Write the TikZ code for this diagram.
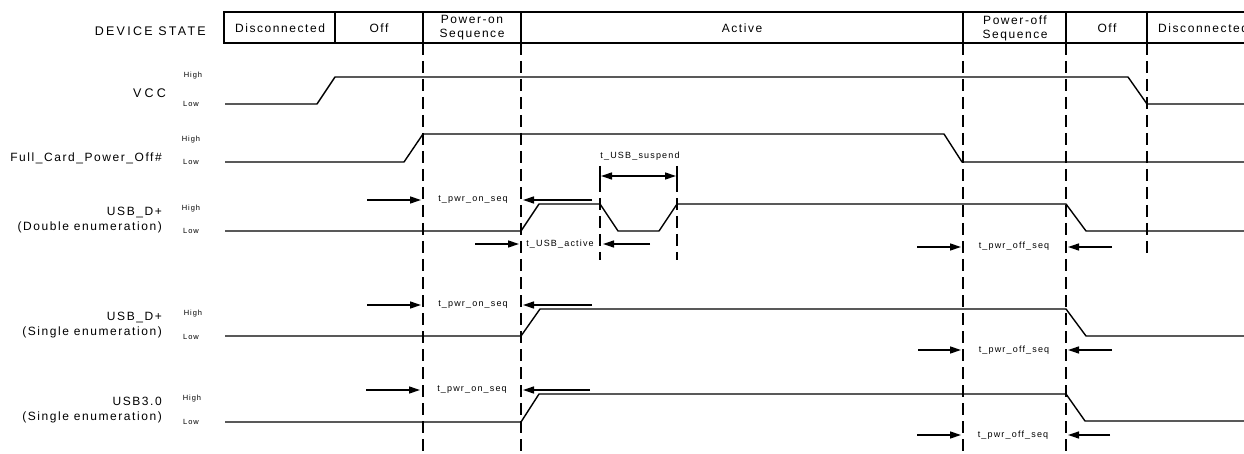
\documentclass[tikz,border=0pt]{standalone}
\usepackage{fontspec}
\setmainfont{Liberation Sans}[LetterSpace=13]
\usepackage{tikz}
\usetikzlibrary{arrows.meta}
\tikzset{
  barline/.style ={line width=1.6pt},
  statetxt/.style={font=\fontsize{12}{14}\selectfont, align=center, inner sep=0pt},
  signame/.style ={anchor=east, align=right, inner sep=0pt, font=\fontsize{12}{15.5}\selectfont},
  level/.style   ={font=\fontsize{7.5}{8}\selectfont, inner sep=0pt},
  tlbl/.style    ={font=\fontsize{9}{10}\selectfont, inner sep=0pt},
  wave/.style    ={line width=1.4pt, line join=round},
  guide/.style   ={line width=2pt, dash pattern=on 12pt off 6pt},
  tarrow/.style  ={line width=1.3pt, -{Triangle[length=11pt,width=7pt]}},
  tdim/.style    ={line width=1.3pt, {Triangle[length=11pt,width=7pt]}-{Triangle[length=11pt,width=7pt]}}
}
\begin{document}
\begin{tikzpicture}[x=1pt, y=-1pt]
\useasboundingbox (0,0) rectangle (1244,454);
% device state
\node[signame, anchor=east, font=\fontsize{12.5}{14}\selectfont\addfontfeature{LetterSpace=18}] (dev) at (206,31) {DEVICE STATE};
\draw[barline] (1244,12) -- (224,12) -- (224,43) -- (1244,43);
\foreach \x in {335,423,521,963,1066,1147} \draw[barline] (\x,12) -- (\x,43);
\node[statetxt] (st1) at (280,28) {Disconnected};
\node[statetxt] (st2) at (379,28) {Off};
\node[statetxt] (st3) at (472,28) {Power-on\\Sequence};
\node[statetxt] (st4) at (742,28) {Active};
\node[statetxt] (st5) at (1015,28) {Power-off\\Sequence};
\node[statetxt] (st6) at (1107,28) {Off};
\node[statetxt, anchor=west] (st7) at (1158,28) {Disconnected};
% guides
\foreach \x in {423,521,963,1066} \draw[guide] (\x,43) -- (\x,454);
\draw[guide] (1147,43) -- (1147,258);

% VCC
\node[signame, font=\fontsize{12.5}{15}\selectfont\addfontfeature{LetterSpace=25}] (vcc) at (166,93) {VCC};
\node[level] (vcch) at (193,76) {High};
\node[level] (vccl) at (191,104) {Low};
\draw[wave] (225,104) -- (317,104) -- (335,77) -- (1128,77) -- (1147,104) -- (1244,104);

% Full_Card_Power_Off#
\node[signame] (fcpo) at (162,158) {Full\_Card\_Power\_Off\#};
\node[level] (fcpoh) at (191,140) {High};
\node[level] (fcpol) at (191,162) {Low};
\draw[wave] (225,162) -- (404,162) -- (423,134) -- (944,134) -- (962,162) -- (1244,162);

% USB_D+ double
\node[signame] (usbd) at (162,220) {USB\_D+\\(Double enumeration)};
\node[level] (usbdh) at (191,209) {High};
\node[level] (usbdl) at (191,231) {Low};
\draw[wave] (225,231) -- (521,231) -- (539,204) -- (600,204) -- (618,231) -- (659,231)
  -- (677,204) -- (1066,204) -- (1086,231) -- (1244,231);
\draw[tarrow] (367,200) -- (421,200);
\node[tlbl] (ton1) at (473,200) {t\_pwr\_on\_seq};
\draw[tarrow] (592,200) -- (523,200);
\draw[line width=1.4pt] (600,166) -- (600,180) (677,166) -- (677,180);
\draw[guide] (600,180) -- (600,260) (677,180) -- (677,260);
\draw[tdim] (601,176) -- (676,176);
\node[tlbl] (tsus) at (640,156) {t\_USB\_suspend};
\draw[tarrow] (475,244) -- (519,244);
\node[tlbl] (tact) at (560,244) {t\_USB\_active};
\draw[tarrow] (650,244) -- (603,244);
\draw[tarrow] (917,247) -- (961,247);
\node[tlbl] (toff1) at (1014,246) {t\_pwr\_off\_seq};
\draw[tarrow] (1112,247) -- (1068,247);

% USB_D+ single
\node[signame] (usbs) at (162,325) {USB\_D+\\(Single enumeration)};
\node[level] (usbsh) at (193,314) {High};
\node[level] (usbsl) at (191,337) {Low};
\draw[wave] (225,336) -- (521,336) -- (540,309) -- (1066,309) -- (1086,336) -- (1244,336);
\draw[tarrow] (367,305) -- (421,305);
\node[tlbl] (ton2) at (473,305) {t\_pwr\_on\_seq};
\draw[tarrow] (592,305) -- (523,305);
\draw[tarrow] (918,350) -- (961,350);
\node[tlbl] (toff2) at (1014,350) {t\_pwr\_off\_seq};
\draw[tarrow] (1112,350) -- (1068,350);

% USB3.0
\node[signame] (usb3) at (162,410) {USB3.0\\(Single enumeration)};
\node[level] (usb3h) at (192,399) {High};
\node[level] (usb3l) at (191,422) {Low};
\draw[wave] (225,422) -- (521,422) -- (539,394) -- (1066,394) -- (1085,421) -- (1244,421);
\draw[tarrow] (366,390) -- (420,390);
\node[tlbl] (ton3) at (472,390) {t\_pwr\_on\_seq};
\draw[tarrow] (590,390) -- (523,390);
\draw[tarrow] (917,435) -- (961,435);
\node[tlbl] (toff3) at (1013,435) {t\_pwr\_off\_seq};
\draw[tarrow] (1110,435) -- (1068,435);
\end{tikzpicture}
\end{document}
